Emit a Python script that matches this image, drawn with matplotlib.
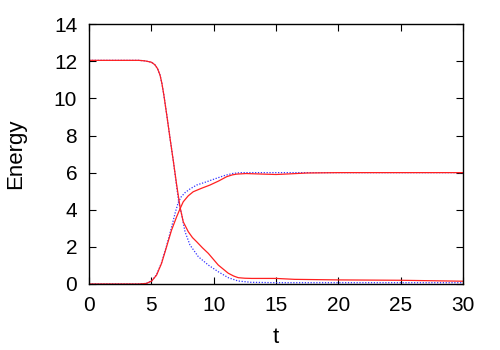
import matplotlib
matplotlib.use("Agg")
import matplotlib.pyplot as plt

# Red solid, decreasing
t_red_dec = [0, 4, 4.5, 5.0, 5.15, 5.3, 5.5, 5.7, 5.85, 6.0, 6.25, 6.5, 6.77, 7.03, 7.3, 7.56, 7.96,
             8.3, 8.63, 9.1, 9.57, 10.37, 11.17, 11.6, 11.97, 12.5, 13.05, 14, 15, 16.5, 20, 25, 30]
e_red_dec = [12.05, 12.05, 12.02, 11.95, 11.88, 11.8, 11.6, 11.25, 10.8, 10.2, 9.05, 7.85, 6.6, 5.35, 4.15,
             3.35, 2.82, 2.5, 2.28, 1.95, 1.65, 1.02, 0.58, 0.43, 0.34, 0.31, 0.3, 0.3, 0.3, 0.25, 0.22,
             0.2, 0.15]

# Blue dotted, decreasing
t_blue_dec = [0, 4, 4.5, 5.0, 5.15, 5.3, 5.5, 5.7, 5.85, 6.0, 6.25, 6.5, 6.77, 7.0, 7.2, 7.43, 7.7,
              8.1, 8.77, 9.57, 10.37, 11.17, 11.97, 13, 15, 20, 30]
e_blue_dec = [12.05, 12.05, 12.02, 11.95, 11.88, 11.8, 11.6, 11.25, 10.8, 10.2, 9.05, 7.85, 6.6, 5.4,
              4.4, 3.75, 2.82, 2.1, 1.47, 1.02, 0.66, 0.34, 0.16, 0.09, 0.07, 0.07, 0.07]

# Red solid, increasing
t_red_inc = [0, 4, 4.6, 5.03, 5.42, 5.82, 6.22, 6.62, 7.03, 7.3, 7.56, 7.96, 8.36, 9.0, 9.7, 10.4,
             11.04, 11.5, 11.84, 12.6, 14, 15, 16, 17.5, 20, 30]
e_red_inc = [0, 0, 0.03, 0.16, 0.48, 1.11, 2.0, 2.9, 3.62, 4.05, 4.43, 4.75, 4.97, 5.15, 5.33, 5.55,
             5.78, 5.88, 5.92, 5.95, 5.92, 5.9, 5.93, 5.98, 6.0, 6.0]

# Blue dotted, increasing
t_blue_inc = [0, 4, 4.6, 5.03, 5.42, 5.82, 6.22, 6.6, 6.9, 7.16, 7.4, 7.7, 8.1, 8.63, 9.4, 10.2,
              10.9, 11.57, 12.2, 30]
e_blue_inc = [0, 0, 0.03, 0.17, 0.5, 1.15, 2.05, 3.0, 3.8, 4.4, 4.7, 4.92, 5.12, 5.33, 5.5, 5.69,
              5.85, 5.96, 6.0, 6.0]

x_ticks = [0, 5, 10, 15, 20, 25, 30]
y_ticks = [0, 2, 4, 6, 8, 10, 12, 14]

plt.rcParams['font.family'] = ['Liberation Sans', 'DejaVu Sans']

fig = plt.figure(figsize=(5, 3.5), dpi=100)
ax = fig.add_axes([0.178, 0.1886, 0.748, 0.7424])

ax.plot(t_blue_dec, e_blue_dec, color='#3333ff', lw=0.9, linestyle=(0, (1, 1.3)))
ax.plot(t_blue_inc, e_blue_inc, color='#3333ff', lw=0.9, linestyle=(0, (1, 1.3)))
ax.plot(t_red_dec, e_red_dec, color='#ff2020', lw=0.9)
ax.plot(t_red_inc, e_red_inc, color='#ff2020', lw=0.9)

ax.set_xlim(0, 30)
ax.set_ylim(0, 14)
ax.set_xticks(x_ticks)
ax.set_yticks(y_ticks)
ax.tick_params(direction='in', top=True, right=True, length=5, width=0.8,
               labelsize=15)
ax.tick_params(axis='x', pad=9)
ax.tick_params(axis='y', pad=8.5)
for s in ax.spines.values():
    s.set_linewidth(1.0)
ax.set_xlabel('t', fontsize=16, labelpad=8)
ax.set_ylabel('Energy', fontsize=16, labelpad=20)

fig.savefig('out.png', dpi=100)
